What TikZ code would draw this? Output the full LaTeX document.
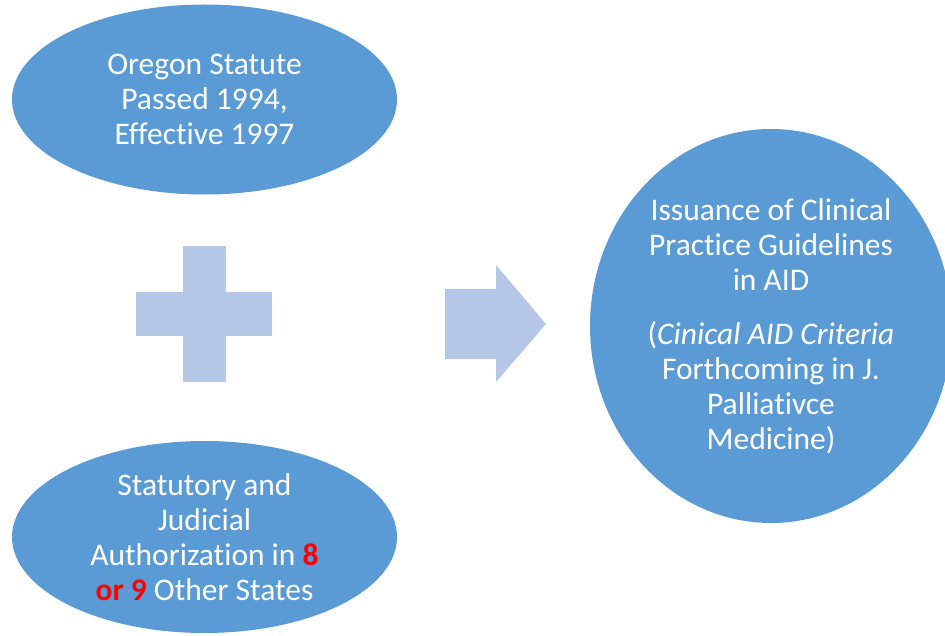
\documentclass[tikz,border=0pt]{standalone}
\usepackage{fontspec}
\setmainfont{Carlito}[Ligatures=NoCommon]
\usetikzlibrary{shapes.geometric}
\definecolor{aidblue}{HTML}{5B9BD5}
\definecolor{aidlight}{HTML}{B4C7E7}
\definecolor{aidred}{HTML}{FF0000}
\tikzset{
  bubble/.style={ellipse,fill=aidblue,text=white,align=center,inner sep=0pt,
    font=\fontsize{31.5}{35}\selectfont},
  sign/.style={fill=aidlight}
}
\newcommand{\redbold}[1]{\textcolor{aidred}{\textbf{#1}}}

\begin{document}
\begin{tikzpicture}[x=1pt,y=-1pt]
  \useasboundingbox (0,0) rectangle (945,636);
  \node[bubble,minimum width=385pt,minimum height=190pt] (oregon) at (204.5,99.5)
    {Oregon Statute\\Passed 1994,\\Effective 1997};
  \node[bubble,minimum width=385pt,minimum height=192pt] (states) at (204.5,537)
    {Statutory and\\Judicial\\Authorization in \redbold{8}\\\redbold{or 9} Other States};
  \node[bubble,minimum width=362pt,minimum height=394pt] (guidelines) at (771,326)
    {Issuance of Clinical\\Practice Guidelines\\in AID\\[19pt]
     (\textit{Cinical AID Criteria}\\Forthcoming in J.\\Palliativce\\Medicine)};
  % plus sign
  \coordinate (plus) at (204,314);
  \fill[sign] ([xshift=-21.5pt,yshift=68pt]plus) rectangle ([xshift=21.5pt,yshift=-68pt]plus);
  \fill[sign] ([xshift=-68pt,yshift=21.5pt]plus) rectangle ([xshift=68pt,yshift=-21.5pt]plus);
  % arrow
  \fill[sign] (445,289) -- (496,289) -- (496,265) -- (546,324) -- (496,382)
    -- (496,359) -- (445,359) -- cycle;
\end{tikzpicture}
\end{document}
